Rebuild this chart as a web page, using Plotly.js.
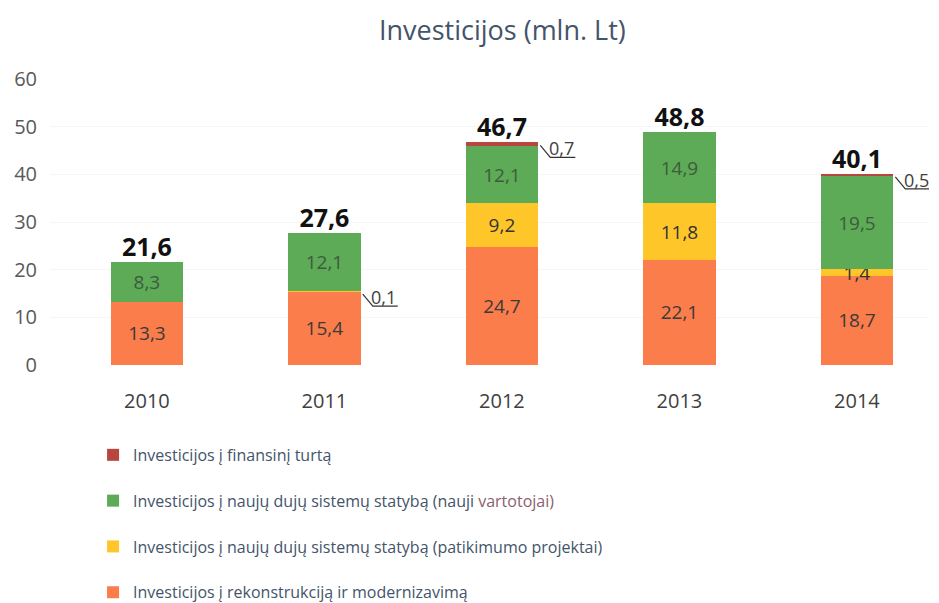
<!DOCTYPE html>
<html>
<head>
<meta charset="utf-8">
<script src="https://cdn.plot.ly/plotly-3.0.1.min.js"></script>
<style>html,body{margin:0;padding:0;background:#fff;}#chart{width:939px;height:603px;}</style>
</head>
<body>
<div id="chart"></div>
<script>
// ---- data ----
const years = ['2010', '2011', '2012', '2013', '2014'];
const rekonstrukcija = [13.3, 15.4, 24.7, 22.1, 18.7];
const patikimumo = [0, 0.1, 9.2, 11.8, 1.4];
const naujiVartotojai = [8.3, 12.1, 12.1, 14.9, 19.5];
const finansinis = [0, 0, 0.7, 0, 0.5];
const totals = [21.6, 27.6, 46.7, 48.8, 40.1];
const seriesNames = [
  'Investicijos į rekonstrukciją ir modernizavimą',
  'Investicijos į naujų dujų sistemų statybą (patikimumo projektai)',
  'Investicijos į naujų dujų sistemų statybą (nauji <span style="fill:#8C5E6E">vartotojai)</span>',
  'Investicijos į finansinį turtą'
];
const yTicks = [0, 10, 20, 30, 40, 50, 60];

// ---- styling ----
const FONT = 'Open Sans, Noto Sans, sans-serif';
const colors = ['#FA7D4B', '#FFC62A', '#5DAA57', '#B9463E'];
const textColors = ['#3a3a3a', '#333333', '#3f5a3f', '#333333'];
const BAR_W = 0.41;
const fmt = v => v.toFixed(1).replace('.', ',');

const xs = years.map((_, i) => i);
const seriesVals = [rekonstrukcija, patikimumo, naujiVartotojai, finansinis];

const traces = seriesVals.map((vals, s) => ({
  type: 'bar',
  x: xs,
  y: vals,
  name: seriesNames[s],
  legendgroup: 'g' + s,
  legendrank: 4 - s,
  width: BAR_W,
  marker: { color: colors[s], line: { width: 0 } },
  text: vals.map(v => (v >= 1 ? fmt(v) : '')),
  textposition: 'inside',
  insidetextanchor: 'middle',
  constraintext: 'none',
  textangle: 0,
  textfont: { family: FONT, size: 19, color: textColors[s] },
  hoverinfo: 'skip'
}));

traces.push({
  type: 'scatter',
  mode: 'text',
  x: xs,
  y: totals,
  text: totals.map(fmt),
  textposition: 'top center',
  textfont: { family: FONT, size: 25, color: '#111111', weight: 'bold' },
  showlegend: false,
  hoverinfo: 'skip'
});

// callouts for small segments
const shapes = [];
const annotations = [];
xs.forEach(i => {
  let cum = 0;
  seriesVals.forEach((vals, s) => {
    const v = vals[i];
    cum += v;
    if (v > 0 && v < 1) {
      const xa = i + BAR_W / 2;
      shapes.push({
        type: 'path', xref: 'x', yref: 'y',
        xsizemode: 'pixel', ysizemode: 'pixel',
        xanchor: xa, yanchor: cum,
        path: 'M2,-3 L12,-15 L37,-15',
        line: { color: '#333333', width: 1.2 }
      });
      annotations.push({
        x: xa, y: cum, xref: 'x', yref: 'y',
        text: fmt(v), showarrow: false,
        xanchor: 'center', yanchor: 'middle',
        xshift: 23, yshift: -6,
        font: { family: FONT, size: 18, color: '#404040' }
      });
    }
  });
});

const layout = {
  width: 939, height: 603,
  paper_bgcolor: '#ffffff', plot_bgcolor: '#ffffff',
  margin: { l: 50, r: 10, t: 79, b: 238, autoexpand: false },
  barmode: 'stack',
  separators: ', ',
  title: {
    text: 'Investicijos (mln. Lt)',
    x: 0.535, xanchor: 'center', xref: 'container',
    y: 0.95, yanchor: 'middle', yref: 'container',
    font: { family: FONT, size: 27, color: '#44546A' }
  },
  xaxis: {
    range: [-0.546, 4.406],
    tickvals: xs, ticktext: years,
    showgrid: false, zeroline: false, showline: false, ticks: '',
    ticklabelstandoff: 22,
    tickfont: { family: FONT, size: 20, color: '#404040' },
    fixedrange: true
  },
  yaxis: {
    range: [0, 60],
    tickvals: yTicks,
    showgrid: true, gridcolor: '#f6f6f6', zeroline: false, showline: false, ticks: '',
    ticklabelstandoff: 12,
    tickfont: { family: FONT, size: 20, color: '#595959' },
    fixedrange: true
  },
  legend: {
    orientation: 'v',
    x: 0.049, xanchor: 'left',
    y: -0.255, yanchor: 'top',
    traceorder: 'grouped',
    tracegroupgap: 22,
    font: { family: FONT, size: 16, color: '#44546A' },
    bgcolor: 'rgba(0,0,0,0)'
  },
  shapes: shapes,
  annotations: annotations,
  showlegend: true
};

Plotly.newPlot('chart', traces, layout, { displayModeBar: false, staticPlot: true });
</script>
</body>
</html>
